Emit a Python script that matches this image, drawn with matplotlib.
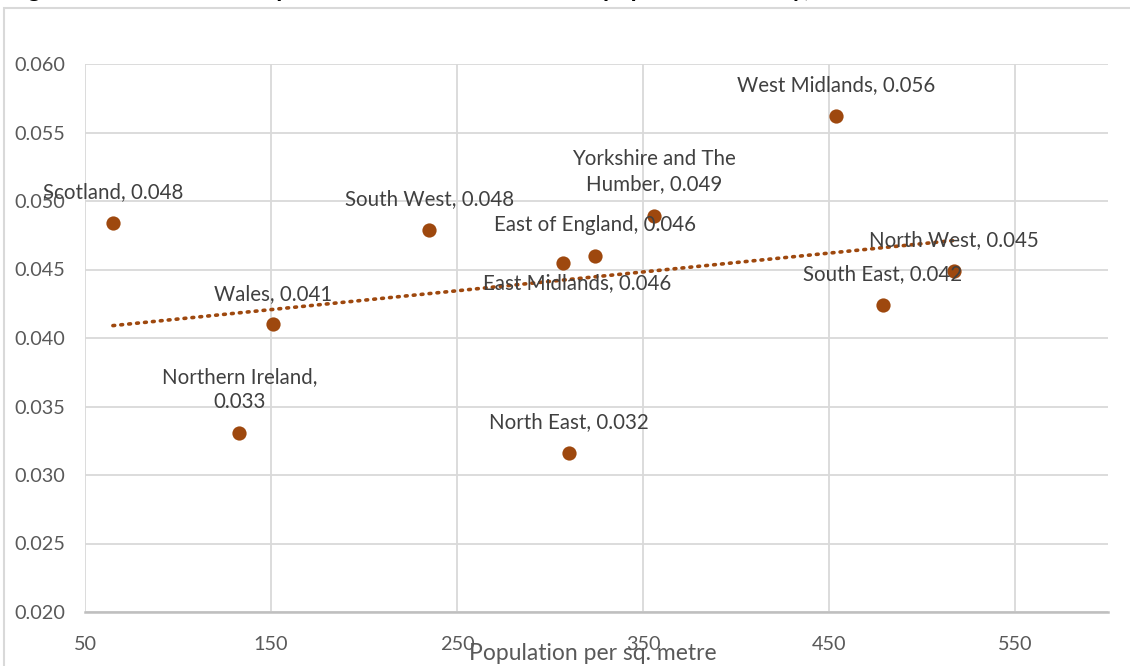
import numpy as np
import matplotlib
matplotlib.use('Agg')
import matplotlib.pyplot as plt
from matplotlib.patches import Rectangle

# Regions: population density vs rate
regions = ['Scotland', 'Wales', 'Northern Ireland', 'South West', 'East Midlands',
           'East of England', 'Yorkshire and The Humber', 'North East', 'West Midlands',
           'South East', 'North West']
density = [65, 151, 133, 235, 307, 324, 356, 310, 454, 479, 517]
rate = [0.0484, 0.0410, 0.0331, 0.0479, 0.0455, 0.0460, 0.0489, 0.0316, 0.0562, 0.0424, 0.0449]
label_text = ['Scotland, 0.048', 'Wales, 0.041', 'Northern Ireland,\n0.033', 'South West, 0.048',
              'East Midlands, 0.046', 'East of England, 0.046', 'Yorkshire and The\nHumber, 0.049',
              'North East, 0.032', 'West Midlands, 0.056', 'South East, 0.042', 'North West, 0.045']

x_ticks = [50, 150, 250, 350, 450, 550]
y_ticks = [0.020, 0.025, 0.030, 0.035, 0.040, 0.045, 0.050, 0.055, 0.060]

dot_color = '#9E480E'
grid_color = '#D9D9D9'
font = ['Lato', 'DejaVu Sans']

plt.rcParams['font.family'] = font

fig = plt.figure(figsize=(11.3, 6.66), dpi=100)
ax = fig.add_axes([85 / 1130, 1 - 612 / 666, 1023 / 1130, 548 / 666])

# outer chart border
fig.patches.append(Rectangle((4 / 1130, -0.1), 1.2, 1.1 - 8 / 666,
                             transform=fig.transFigure, fill=False,
                             edgecolor=grid_color, linewidth=1.5))

ax.set_xlim(50, 600)
ax.set_ylim(0.020, 0.060)
ax.set_xticks(x_ticks)
ax.set_yticks(y_ticks)
ax.set_yticklabels([f'{v:.3f}' for v in y_ticks])
ax.grid(True, color=grid_color, linewidth=1.3)
ax.set_axisbelow(True)
for side in ['top', 'right', 'left']:
    ax.spines[side].set_visible(False)
ax.spines['bottom'].set_color('#BFBFBF')
ax.spines['bottom'].set_linewidth(1.8)
ax.tick_params(length=0, labelsize=14.3, colors='#595959')
ax.tick_params(axis='x', pad=17)
ax.tick_params(axis='y', pad=14)

# linear trendline
k, b = np.polyfit(density, rate, 1)
xs = np.array([min(density), max(density)])
ax.plot(xs, k * xs + b, color=dot_color, linewidth=2.6,
        linestyle=(0, (0.5, 1.7)), dash_capstyle='round', zorder=2)

ax.scatter(density, rate, s=105, color=dot_color, zorder=3, linewidths=0)

# label offsets in points (most sit above the marker)
offsets = {'East Midlands': (10, -15), 'Northern Ireland': (0, 31),
           'Yorkshire and The Humber': (0, 32)}
for name, xv, yv, txt in zip(regions, density, rate, label_text):
    dx, dy = offsets.get(name, (0, 22))
    ax.annotate(txt, (xv, yv), xytext=(dx, dy), textcoords='offset points',
                ha='center', va='center', fontsize=14.8, color='#404040',
                linespacing=1.35, zorder=4)

fig.text(593 / 1130, 1 - 653 / 666, 'Population per sq. metre', ha='center',
         va='center', fontsize=16.5, color='#595959')

# chart title, mostly above the visible area
fig.text(8 / 1130, 1 + 3 / 666,
         'Figure 1: Death rate compared to the national rate and population density, 2019',
         ha='left', va='baseline', fontsize=17.5, fontweight='bold', color='black')

fig.savefig('out.png', dpi=100)
